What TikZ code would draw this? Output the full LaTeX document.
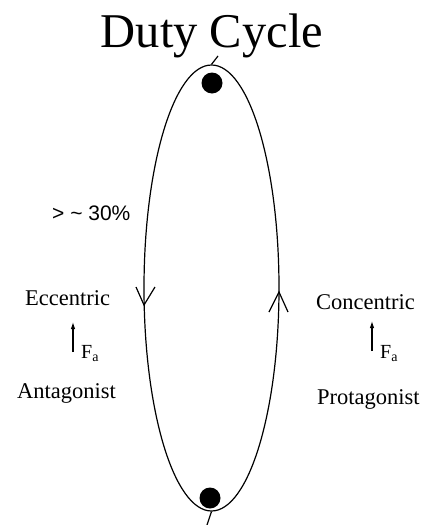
\documentclass[tikz,border=0pt]{standalone}
\usepackage{fontspec}
\setmainfont{Liberation Serif}
\newfontfamily\labelsans{Liberation Sans}
\usetikzlibrary{shapes.geometric,arrows.meta}

\begin{document}
\begin{tikzpicture}[x=1pt, y=-1pt,
cyclenode/.style={ellipse, draw, line width=1.2pt, minimum width=135pt, minimum height=446pt, inner sep=0pt},
dotnode/.style={circle, fill=black, minimum size=21pt, inner sep=0pt},
textnode/.style={anchor=base west, inner sep=0pt, font=\fontsize{22.5}{27}\selectfont},
forcearrow/.style={-{Latex[length=7pt,width=4.5pt]}, line width=1.1pt},
]
\useasboundingbox (0,0) rectangle (422,525);

\node[anchor=base, inner sep=0pt, font=\fontsize{48.5}{56}\selectfont] at (212,47) (title) {Duty Cycle};

\node[cyclenode] at (211.5,288) (cycle) {};
\node[dotnode] at (212,83) (topdot) {};
\node[dotnode] at (210,498) (bottomdot) {};
\coordinate (toptick) at (218,56);
\coordinate (bottomtick) at (207,525);
\draw[line width=1.2pt] (cycle.north) -- (toptick);
\draw[line width=1.2pt] (cycle.south) -- (bottomtick);

% direction marks on the cycle
\draw[line width=1.2pt] (136,287) -- (144,305) -- (155,287);
\draw[line width=1.2pt] (269,312) -- (279,292) -- (288,312);

\node[anchor=base west, inner sep=0pt, font=\labelsans\fontsize{21}{25}\selectfont] at (52,220) (duty) {> \textasciitilde{} 30\%};

\node[textnode] at (25,305) (eccentric) {Eccentric};
\coordinate (eccbase) at (73,352);
\coordinate (ecctip) at (73,322);
\draw[forcearrow] (eccbase) -- (ecctip);
\node[textnode, font=\fontsize{20}{24}\selectfont] at (81,358) (eccforce) {F\textsubscript{a}};
\node[textnode] at (17,398) (antagonist) {Antagonist};

\node[textnode] at (316,309) (concentric) {Concentric};
\coordinate (conbase) at (372,351);
\coordinate (contip) at (372,321);
\draw[forcearrow] (conbase) -- (contip);
\node[textnode, font=\fontsize{20}{24}\selectfont] at (380,358) (conforce) {F\textsubscript{a}};
\node[textnode] at (317,404) (protagonist) {Protagonist};

\end{tikzpicture}
\end{document}
